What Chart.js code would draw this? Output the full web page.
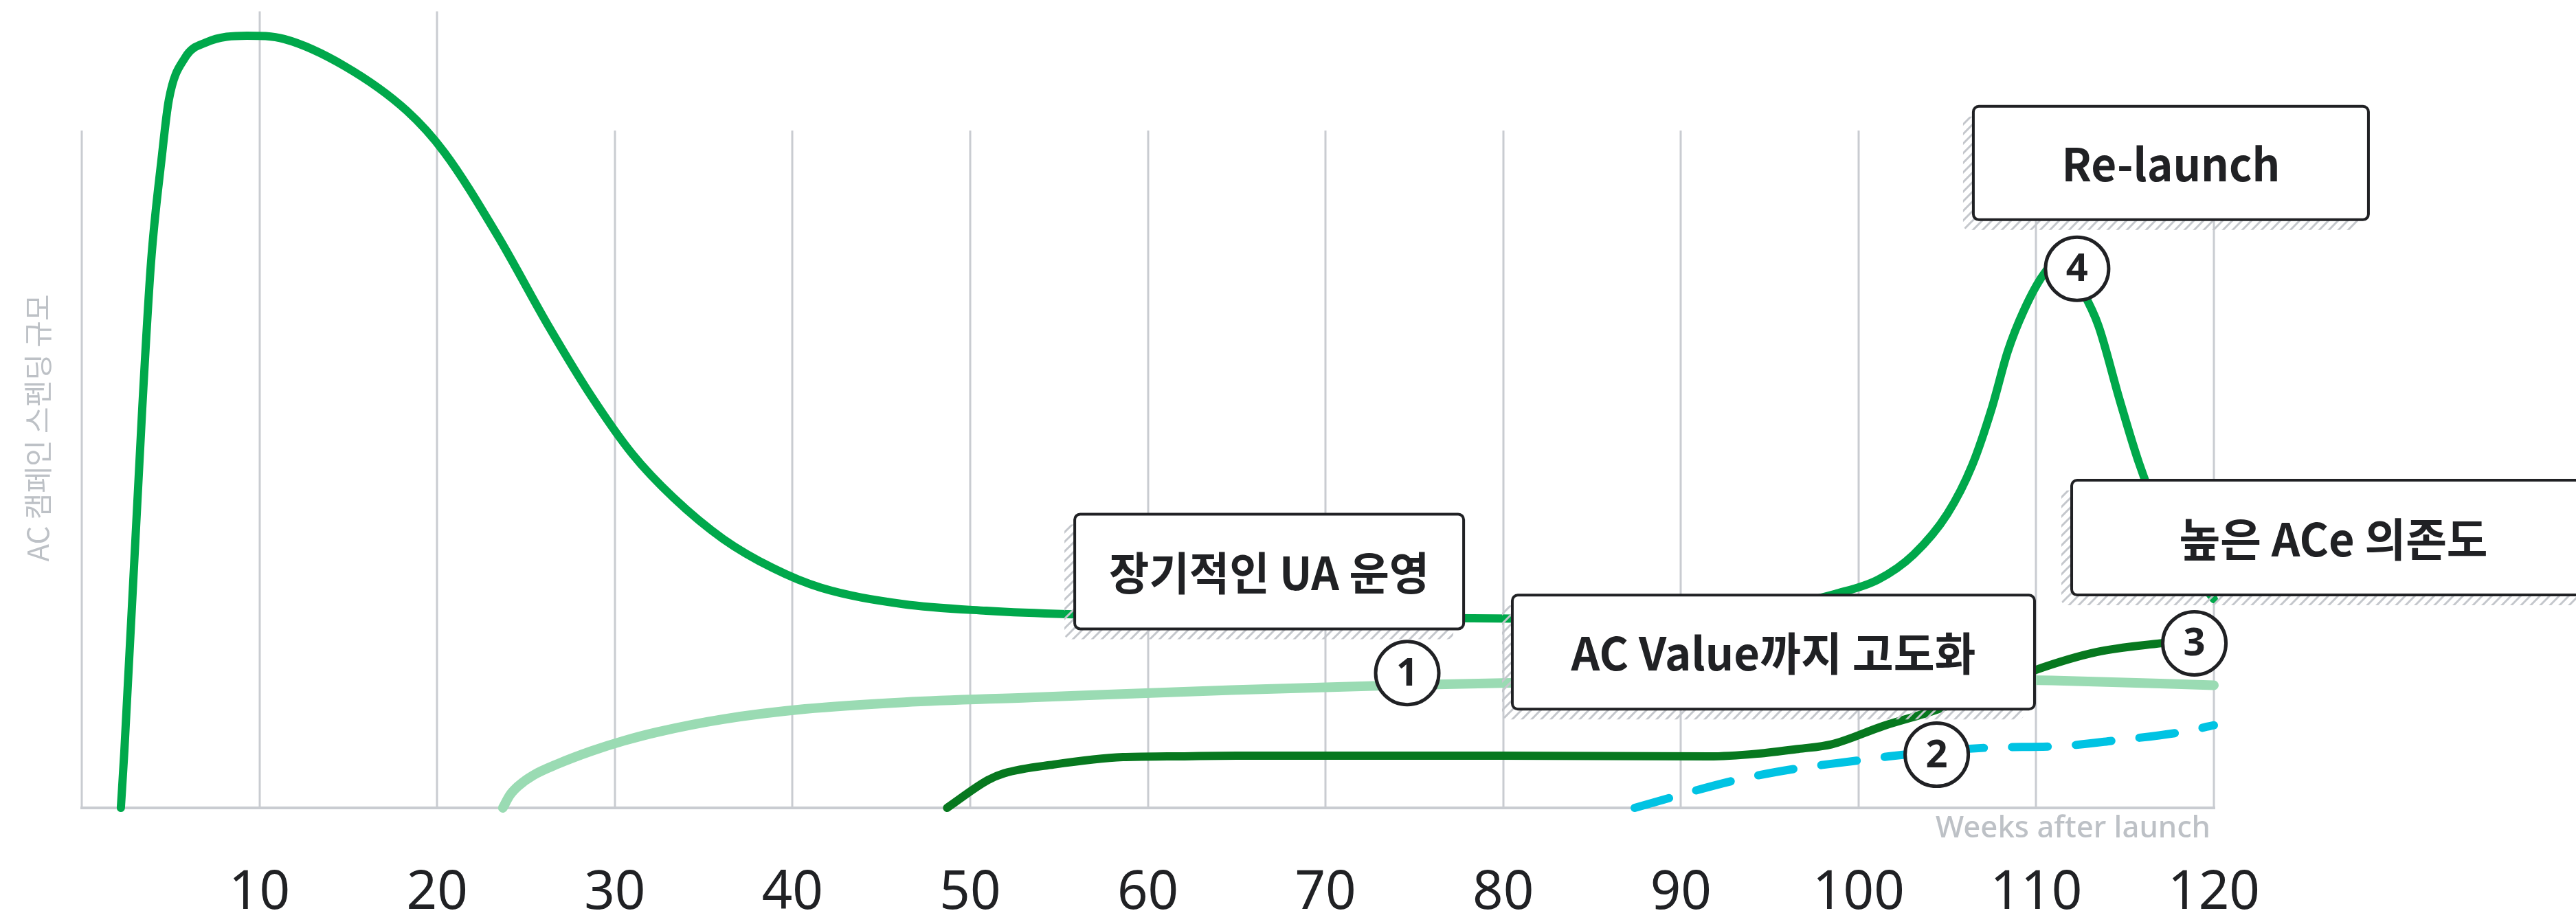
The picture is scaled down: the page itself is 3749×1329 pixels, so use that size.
<!DOCTYPE html>
<html>
<head>
<meta charset="utf-8">
<script src="https://cdn.jsdelivr.net/npm/chart.js@4.4.1/dist/chart.umd.min.js"></script>
<style>
  html, body { margin: 0; padding: 0; background: #fff; overflow: hidden; }
</style>
</head>
<body>
<canvas id="spendChart" width="3749" height="1329"></canvas>
<script>
// weeks after launch / relative AC spend, one pair of arrays per curve
const launchWeeks = [2.2, 2.4, 3.4, 3.9, 4.5, 4.9, 5.8, 7.0, 9.3, 11.4, 14.8, 18.3, 20.4, 23.4, 26.3, 28.7, 31.0, 33.3, 36.1, 38.9, 41.6, 46.2, 50.9, 55.5, 64.7, 74.0, 83.2, 91.6, 95.3, 98.7, 101.1, 103.1, 105.0, 106.4, 107.5, 108.4, 109.3, 110.4, 111.4, 112.6, 113.5, 114.7, 115.8, 117.5, 120];
const launchSpend = [0, 8.5, 58.8, 80.6, 96.0, 104.5, 110.7, 113.0, 114.0, 113.5, 109.5, 102.9, 96.8, 84.5, 71.0, 60.7, 52.2, 45.8, 39.7, 35.4, 32.5, 30.1, 29.1, 28.6, 28.3, 28.1, 27.9, 28.4, 29.6, 31.6, 33.7, 37.4, 43.4, 50.6, 59.0, 67.4, 73.4, 78.7, 81.1, 76.3, 71.2, 60.2, 50.8, 39.7, 30.8];

const baseWeeks = [23.7, 24.1, 24.6, 25.4, 26.8, 28.7, 30.5, 32.4, 36.1, 40.7, 46.3, 53.4, 64.7, 74.0, 83.2, 92.5, 101.7, 110.9, 120];
const baseSpend = [0, 1.9, 3.3, 4.8, 6.5, 8.4, 9.9, 11.2, 13.1, 14.6, 15.6, 16.3, 17.4, 18.1, 18.6, 18.8, 19.1, 18.8, 18.1];

const valueWeeks = [48.7, 51.0, 51.9, 54.7, 58.6, 61.1, 65.0, 79.7, 91.6, 94.3, 96.6, 98.5, 101.4, 104.4, 109.9, 113.4, 117.0, 118.8];
const valueSpend = [0, 4.1, 5.1, 6.4, 7.5, 7.6, 7.7, 7.7, 7.6, 8.0, 8.7, 9.4, 12.1, 14.5, 20.3, 23.0, 24.3, 24.8];

const dashWeeks = [87.4, 93.1, 96.5, 100.3, 101.7, 107.4, 111.2, 114.6, 118.2, 120];
const dashSpend = [0, 4.1, 5.8, 7.1, 7.6, 8.9, 9.1, 10.0, 11.2, 12.2];

const noteTexts = ['장기적인 UA 운영', 'AC Value까지 고도화', 'Re-launch', '높은 ACe 의존도'];
const stepNumbers = ['1', '2', '3', '4'];
const yTitle = 'AC 캠페인 스펜딩 규모';
const xTitle = 'Weeks after launch';

const INK = '#202124';
const GRID = '#c9ccd1';
const MUTED = '#bdc1c6';

function points(weeks, spend) {
  return weeks.map((w, i) => ({ x: w, y: spend[i] }));
}

function line(label, weeks, spend, color, width, extra) {
  return Object.assign({
    label,
    data: points(weeks, spend),
    borderColor: color,
    borderWidth: width,
    borderCapStyle: 'round',
    borderJoinStyle: 'round',
    pointRadius: 0,
    cubicInterpolationMode: 'monotone',
    clip: false
  }, extra || {});
}

function roundedRect(ctx, x, y, w, h, r) {
  ctx.beginPath();
  ctx.moveTo(x + r, y);
  ctx.lineTo(x + w - r, y);
  ctx.arcTo(x + w, y, x + w, y + r, r);
  ctx.lineTo(x + w, y + h - r);
  ctx.arcTo(x + w, y + h, x + w - r, y + h, r);
  ctx.lineTo(x + r, y + h);
  ctx.arcTo(x, y + h, x, y + h - r, r);
  ctx.lineTo(x, y + r);
  ctx.arcTo(x, y, x + r, y, r);
  ctx.closePath();
}

// diagonal hatch used for the box shadows
function hatchPattern(ctx) {
  const tile = document.createElement('canvas');
  tile.width = tile.height = 14;
  const t = tile.getContext('2d');
  t.strokeStyle = '#c4c7cc';
  t.lineWidth = 3;
  t.beginPath();
  t.moveTo(-2, 16); t.lineTo(16, -2);
  t.moveTo(-2, 2); t.lineTo(2, -2);
  t.moveTo(12, 16); t.lineTo(16, 12);
  t.stroke();
  return ctx.createPattern(tile, 'repeat');
}

const sketch = {
  id: 'sketch',
  beforeDatasetsDraw(chart) {
    const { ctx, chartArea: a, scales: { x, y } } = chart;
    ctx.save();
    ctx.strokeStyle = GRID;
    ctx.lineWidth = 3;
    x.ticks.forEach(t => {
      if (t.value === 0 || t.value === 120) return;
      const px = Math.round(x.getPixelForValue(t.value));
      // the first two lines run up past the axis top, behind the launch peak
      const top = t.value <= 20 ? y.getPixelForValue(117.6) : a.top;
      ctx.beginPath();
      ctx.moveTo(px, top);
      ctx.lineTo(px, a.bottom);
      ctx.stroke();
    });
    // left / right frame
    ctx.beginPath();
    ctx.moveTo(a.left, a.top); ctx.lineTo(a.left, a.bottom);
    ctx.moveTo(a.right, a.top); ctx.lineTo(a.right, a.bottom);
    ctx.stroke();
    ctx.lineWidth = 4;
    ctx.beginPath();
    ctx.moveTo(a.left - 2, a.bottom); ctx.lineTo(a.right + 2, a.bottom);
    ctx.stroke();
    ctx.restore();
  },
  afterDatasetsDraw(chart, args, opts) {
    const { ctx, chartArea: a, scales: { x, y } } = chart;
    const hatch = hatchPattern(ctx);
    ctx.save();

    // axis titles
    ctx.fillStyle = MUTED;
    ctx.font = '42px "Noto Sans CJK KR"';
    ctx.textAlign = 'center';
    ctx.textBaseline = 'middle';
    ctx.save();
    ctx.translate(55, 623);
    ctx.rotate(-Math.PI / 2);
    ctx.fillText(yTitle, 0, 0, 411);
    ctx.restore();

    ctx.font = '500 44px "Noto Sans"';
    ctx.textAlign = 'right';
    ctx.textBaseline = 'alphabetic';
    ctx.fillText(xTitle, a.right - 5, a.bottom + 43, 400);

    // callout boxes with hatched shadow
    opts.notes.forEach((n, i) => {
      const cx = x.getPixelForValue(n.week);
      const cy = y.getPixelForValue(n.spend);
      const bx = cx - n.w / 2, by = cy - n.h / 2;
      ctx.fillStyle = hatch;
      roundedRect(ctx, bx - 15, by + 15, n.w, n.h, 8);
      ctx.fill();
      ctx.fillStyle = '#fff';
      ctx.strokeStyle = INK;
      ctx.lineWidth = 4;
      roundedRect(ctx, bx, by, n.w, n.h, 8);
      ctx.fill();
      ctx.stroke();
      ctx.fillStyle = INK;
      ctx.font = 'bold 66px "Noto Sans CJK KR"';
      ctx.textAlign = 'center';
      ctx.textBaseline = 'middle';
      ctx.fillText(noteTexts[i], cx, cy + 2, n.fit);
    });

    // numbered markers
    opts.steps.forEach((s, i) => {
      const cx = x.getPixelForValue(s.week);
      const cy = y.getPixelForValue(s.spend);
      ctx.beginPath();
      ctx.arc(cx, cy, 46, 0, Math.PI * 2);
      ctx.fillStyle = '#fff';
      ctx.fill();
      ctx.lineWidth = 5;
      ctx.strokeStyle = INK;
      ctx.stroke();
      ctx.fillStyle = INK;
      ctx.font = 'bold 56px "Noto Sans"';
      ctx.textAlign = 'center';
      ctx.textBaseline = 'middle';
      ctx.fillText(stepNumbers[i], cx, cy + 2);
    });
    ctx.restore();
  }
};

new Chart(document.getElementById('spendChart'), {
  type: 'line',
  data: {
    datasets: [
      line('base', baseWeeks, baseSpend, '#9adbb3', 14),
      line('value', valueWeeks, valueSpend, '#07781f', 12),
      line('dashed', dashWeeks, dashSpend, '#00c3e3', 12, { borderDash: [52, 41] }),
      line('launch', launchWeeks, launchSpend, '#00a84b', 12)
    ]
  },
  options: {
    responsive: false,
    animation: false,
    events: [],
    // tick padding is counted twice when the axis is fitted, the negative
    // bottom padding gives that space back so labels sit close to the edge
    layout: { padding: { left: 119, right: 527, top: 190, bottom: -89 } },
    plugins: {
      legend: { display: false },
      tooltip: { enabled: false },
      sketch: {
        notes: [
          { week: 66.83, spend: 34.9, w: 566, h: 167, fit: 466 },
          { week: 95.21, spend: 23.0, w: 760, h: 166, fit: 589 },
          { week: 117.58, spend: 95.2, w: 575, h: 165, fit: 318 },
          { week: 126.73, spend: 39.9, w: 762, h: 167, fit: 449 }
        ],
        steps: [
          { week: 74.6, spend: 19.9 },
          { week: 104.4, spend: 7.85 },
          { week: 118.9, spend: 24.3 },
          { week: 112.3, spend: 79.6 }
        ]
      }
    },
    scales: {
      x: {
        type: 'linear',
        min: 0,
        max: 120,
        grid: { display: false },
        border: { display: false },
        ticks: {
          stepSize: 10,
          autoSkip: false,
          maxRotation: 0,
          padding: 83,
          color: INK,
          font: { family: '"Noto Sans"', size: 78, lineHeight: 0.872 },
          callback: v => (v === 0 ? '' : v)
        }
      },
      y: {
        display: false,
        min: 0,
        max: 100
      }
    }
  },
  plugins: [sketch]
});
</script>
</body>
</html>
